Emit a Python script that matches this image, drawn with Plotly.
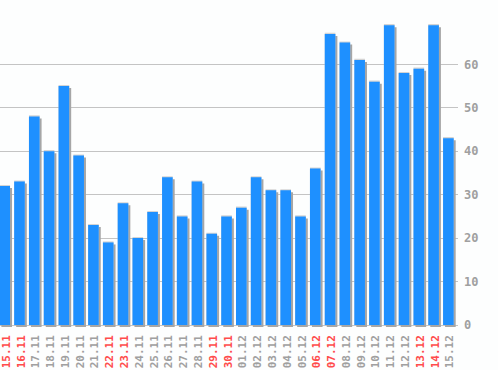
import plotly.graph_objects as go

dates = ["15.11", "16.11", "17.11", "18.11", "19.11", "20.11", "21.11", "22.11",
         "23.11", "24.11", "25.11", "26.11", "27.11", "28.11", "29.11", "30.11",
         "01.12", "02.12", "03.12", "04.12", "05.12", "06.12", "07.12", "08.12",
         "09.12", "10.12", "11.12", "12.12", "13.12", "14.12", "15.12"]
values = [32, 33, 48, 40, 55, 39, 23, 19, 28, 20, 26, 34, 25, 33, 21, 25,
          27, 34, 31, 31, 25, 36, 67, 65, 61, 56, 69, 58, 59, 69, 43]
weekend = ["15.11", "16.11", "22.11", "23.11", "29.11", "30.11",
           "06.12", "07.12", "13.12", "14.12"]
y_ticks = [0, 10, 20, 30, 40, 50, 60]

BLUE = "#1e90ff"
SHADOW = "#a6a6a6"
EDGE = "#d4d4d4"
GREY_TXT = "#a0a0a0"
RED_TXT = "#ff4c4c"
BG = "#fdfefe"

x = list(range(len(dates)))
bw = 0.72
px_unit = 0.135  # ~2px in x units
label_pos = [i + 0.1 for i in x]
ticktext = [
    f"<span style='color:{RED_TXT}'>{d}</span>" if d in weekend else d
    for d in dates
]

fig = go.Figure()
# drop shadow (shifted right and down)
fig.add_trace(go.Bar(x=x, y=values, base=-0.46, width=bw, offset=-bw / 2 + px_unit,
                     marker=dict(color=SHADOW, line=dict(width=0)), hoverinfo="skip"))
# light top edge
fig.add_trace(go.Bar(x=x, y=[v + 0.25 for v in values], width=bw, offset=-bw / 2,
                     marker=dict(color=EDGE, line=dict(width=0)), hoverinfo="skip"))
# main bars
fig.add_trace(go.Bar(x=x, y=values, width=bw, offset=-bw / 2,
                     marker=dict(color=BLUE, line=dict(width=0)), hoverinfo="skip"))

fig.update_layout(
    width=498, height=370,
    margin=dict(l=0, r=40, t=0, b=43, autoexpand=False),
    paper_bgcolor=BG, plot_bgcolor=BG,
    barmode="overlay", showlegend=False, hovermode=False,
    font=dict(family="DejaVu Sans Mono", size=11, color=GREY_TXT),
    xaxis=dict(
        range=[-0.318, 30.65], tickmode="array", tickvals=label_pos, ticktext=ticktext,
        tickangle=-90, showgrid=False, zeroline=False, showline=False,
        ticks="", ticklabelstandoff=5, automargin=False, ticklabeloverflow="allow",
        tickfont=dict(family="DejaVu Sans Mono", size=11, color=GREY_TXT, weight="bold"),
    ),
    yaxis=dict(
        range=[-0.46, 74.8], side="right", tickmode="array", tickvals=y_ticks,
        showgrid=True, gridcolor="#c4c4c4", gridwidth=1, zeroline=False,
        showline=False, ticks="", ticklabelstandoff=5, automargin=False,
        ticklabeloverflow="allow",
        tickfont=dict(family="DejaVu Sans Mono", size=12, color=GREY_TXT, weight="bold"),
    ),
)

fig.write_html(
    "out.html",
    config={"displayModeBar": False, "staticPlot": True},
    post_script="document.body.style.margin='0';document.body.style.padding='0';",
)
